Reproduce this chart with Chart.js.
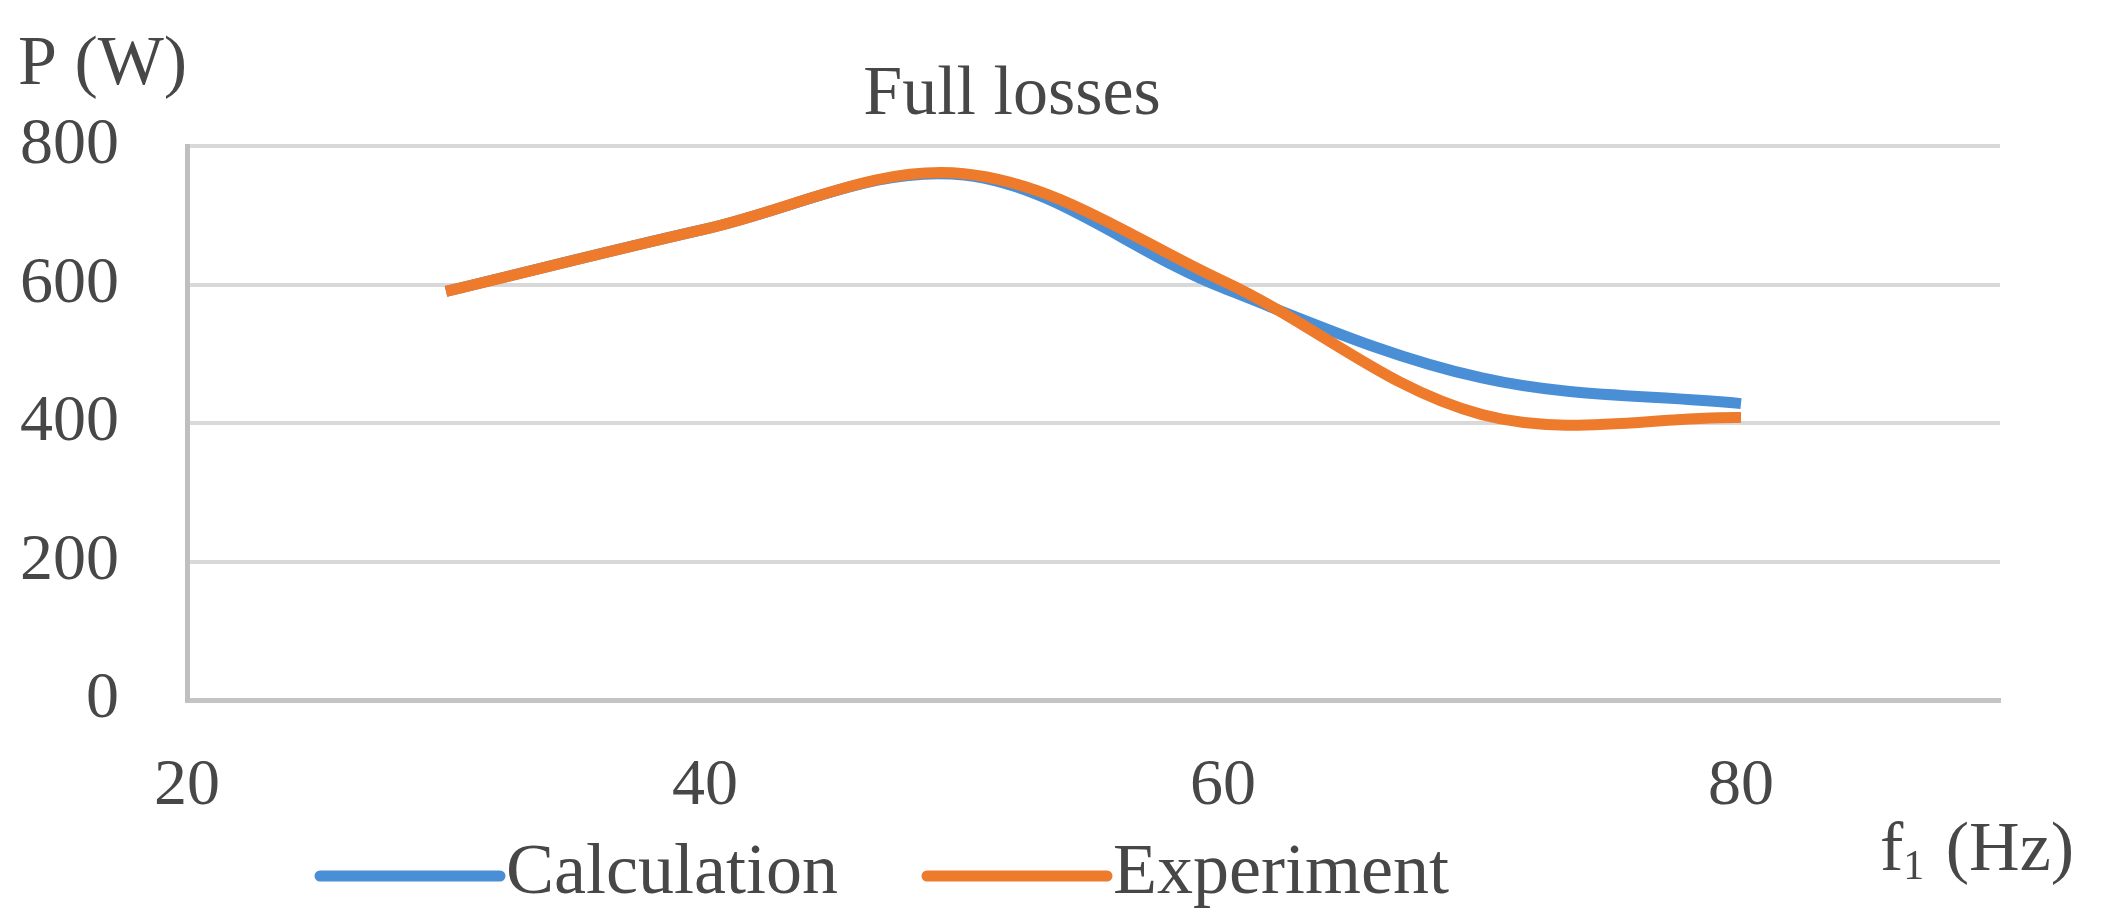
<!DOCTYPE html>
<html>
<head>
<meta charset="utf-8">
<script src="https://cdn.jsdelivr.net/npm/chart.js@4.4.1/dist/chart.umd.min.js"></script>
<style>
  html, body { margin: 0; padding: 0; background: #ffffff; }
  #wrap { width: 2106px; height: 910px; position: relative; }
</style>
</head>
<body>
<div id="wrap"><canvas id="chart" width="2106" height="910"></canvas></div>
<script>
// Supply frequency f1 (Hz) and full losses P (W)
const frequencies = [30, 40, 50, 60, 70, 80];
const calculationLosses = [590, 680, 758, 595, 465, 428];
const experimentLosses = [590, 680, 760, 605, 412, 408];

const xTicks = [20, 40, 60, 80];
const yTicks = [0, 200, 400, 600, 800];

const chartTitle = 'Full losses';
const yAxisName = 'P (W)';
const seriesNames = ['Calculation', 'Experiment'];

const SERIF = '"Liberation Serif", "DejaVu Serif", serif';
const TEXT = '#474747';

const toPoints = (ys) => frequencies.map((x, i) => ({ x, y: ys[i] }));

// Title, axis names and legend drawn onto the canvas
const decorations = {
  id: 'decorations',
  afterDraw(chart) {
    const ctx = chart.ctx;
    ctx.save();
    ctx.fillStyle = TEXT;
    ctx.textBaseline = 'middle';

    ctx.font = '70px ' + SERIF;
    ctx.textAlign = 'center';
    ctx.fillText(chartTitle, 1012, 96);

    ctx.textAlign = 'left';
    ctx.fillText(yAxisName, 18, 66);

    // f1 (Hz) with subscript
    let x = 1880;
    const y = 852;
    ctx.fillText('f', x, y);
    x += ctx.measureText('f').width;
    ctx.font = '42px ' + SERIF;
    ctx.fillText('1', x, y + 16);
    x += ctx.measureText('1').width + 4;
    ctx.font = '70px ' + SERIF;
    ctx.fillText(' (Hz)', x, y);

    // legend
    const legendX = [320, 927];
    chart.data.datasets.forEach((ds, i) => {
      const lx = legendX[i];
      const ly = 876;
      ctx.strokeStyle = ds.borderColor;
      ctx.lineWidth = 11;
      ctx.lineCap = 'round';
      ctx.beginPath();
      ctx.moveTo(lx, ly);
      ctx.lineTo(lx + 180, ly);
      ctx.stroke();
      ctx.fillStyle = TEXT;
      ctx.font = '72px ' + SERIF;
      ctx.textAlign = 'left';
      ctx.fillText(ds.label, lx + 186, ly - 2);
    });
    ctx.restore();
  }
};

new Chart(document.getElementById('chart'), {
  type: 'line',
  data: {
    datasets: [
      {
        label: seriesNames[0],
        data: toPoints(calculationLosses),
        borderColor: '#4a8fd6',
        borderWidth: 11,
        pointRadius: 0,
        tension: 0.35,
        fill: false,
        order: 1
      },
      {
        label: seriesNames[1],
        data: toPoints(experimentLosses),
        borderColor: '#ee7a2c',
        borderWidth: 11,
        pointRadius: 0,
        tension: 0.35,
        fill: false,
        order: 0
      }
    ]
  },
  options: {
    responsive: false,
    animation: false,
    layout: { padding: { top: 146, right: 106, left: 0, bottom: 0 } },
    plugins: {
      legend: { display: false },
      title: { display: false },
      tooltip: { enabled: false }
    },
    scales: {
      x: {
        type: 'linear',
        min: 20,
        max: 90,
        afterBuildTicks: (scale) => { scale.ticks = xTicks.map(v => ({ value: v })); },
        afterFit: (scale) => { scale.height = 210; },
        grid: { display: false },
        border: { display: true, color: '#c4c4c4', width: 5 },
        ticks: {
          padding: 39,
          maxRotation: 0,
          color: TEXT,
          font: { family: SERIF, size: 66 }
        }
      },
      y: {
        min: 0,
        max: 800,
        afterBuildTicks: (scale) => { scale.ticks = yTicks.map(v => ({ value: v })); },
        afterFit: (scale) => { scale.width = 187; },
        grid: { color: '#d9d9d9', lineWidth: 4, drawTicks: false },
        border: { display: true, color: '#bfbfbf', width: 5 },
        ticks: {
          padding: 68,
          color: TEXT,
          font: { family: SERIF, size: 66 }
        }
      }
    }
  },
  plugins: [decorations]
});
</script>
</body>
</html>
